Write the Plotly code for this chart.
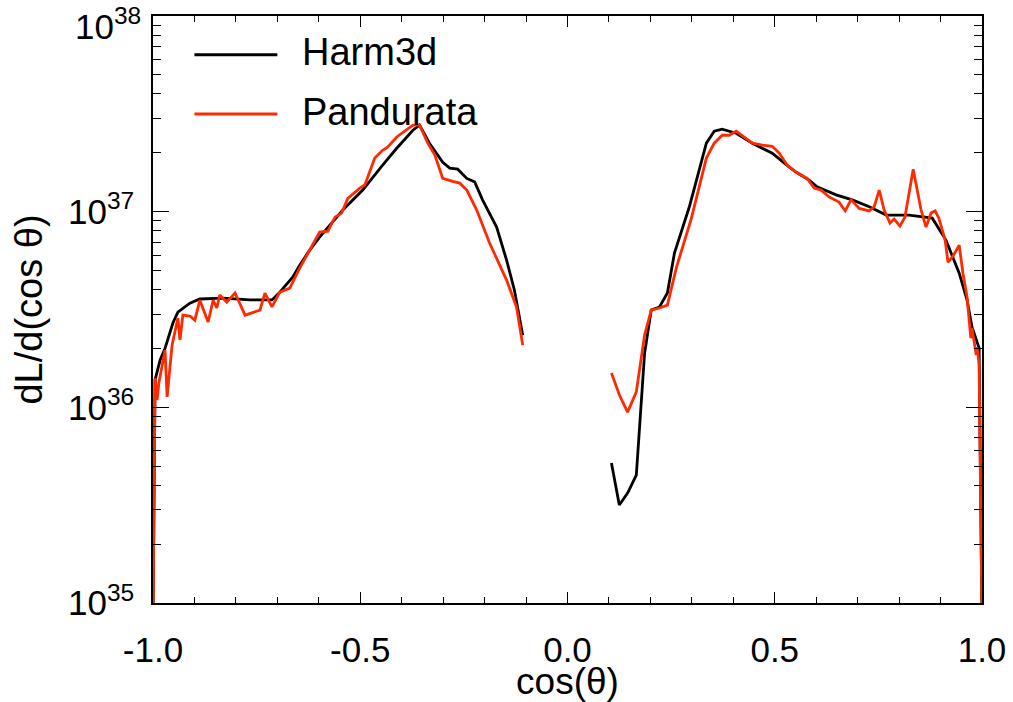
import plotly.graph_objects as go

# ---- data ----
harm_left_x = [-1.0, -0.995, -0.983, -0.971, -0.952, -0.940, -0.911, -0.887, -0.831, -0.766,
               -0.713, -0.694, -0.663, -0.646, -0.622, -0.598, -0.542, -0.494, -0.446, -0.412,
               -0.373, -0.357, -0.333, -0.301, -0.284, -0.265, -0.243, -0.224, -0.205, -0.171,
               -0.147, -0.128, -0.108]
harm_left_y = [8e34, 1.38e36, 1.74e36, 2.0e36, 2.7e36, 3.07e36, 3.41e36, 3.58e36, 3.62e36, 3.54e36,
               3.54e36, 3.88e36, 4.63e36, 5.33e36, 6.36e36, 7.42e36, 1.02e37, 1.29e37, 1.73e37, 2.11e37,
               2.61e37, 2.77e37, 2.24e37, 1.79e37, 1.67e37, 1.65e37, 1.48e37, 1.42e37, 1.15e37, 8.34e36,
               5.66e36, 3.97e36, 2.34e36]
harm_right_x = [0.106, 0.125, 0.145, 0.166, 0.186, 0.202, 0.222, 0.241, 0.258, 0.294,
                0.335, 0.354, 0.373, 0.407, 0.446, 0.494, 0.535, 0.552, 0.583, 0.602,
                0.648, 0.687, 0.728, 0.769, 0.824, 0.865, 0.880, 0.913, 0.945, 0.964,
                0.976, 0.993, 1.0]
harm_right_y = [5.19e35, 3.17e35, 3.65e35, 4.51e35, 1.89e36, 3.14e36, 3.26e36, 3.84e36, 6.14e36, 1.06e37,
                2.24e37, 2.58e37, 2.64e37, 2.52e37, 2.24e37, 1.99e37, 1.69e37, 1.59e37, 1.45e37, 1.34e37,
                1.22e37, 1.15e37, 1.06e37, 9.61e36, 9.61e36, 9.38e36, 9.27e36, 7.16e36, 4.85e36, 3.53e36,
                2.57e36, 2.01e36, 8e34]

pand_left_x = [-1.0, -0.995, -0.990, -0.986, -0.971, -0.966, -0.954, -0.940, -0.935, -0.928,
               -0.911, -0.899, -0.887, -0.867, -0.855, -0.846, -0.839, -0.822, -0.802, -0.778,
               -0.742, -0.730, -0.713, -0.694, -0.670, -0.646, -0.598, -0.578, -0.561, -0.545,
               -0.530, -0.501, -0.489, -0.465, -0.446, -0.434, -0.412, -0.388, -0.373, -0.357,
               -0.337, -0.320, -0.301, -0.277, -0.260, -0.243, -0.219, -0.188, -0.147, -0.123,
               -0.108]
pand_left_y = [8e34, 1.41e36, 1.09e36, 1.33e36, 1.96e36, 1.13e36, 2.08e36, 2.86e36, 2.21e36, 2.96e36,
               2.93e36, 2.79e36, 3.53e36, 2.73e36, 3.53e36, 3.22e36, 3.75e36, 3.45e36, 3.84e36, 2.96e36,
               3.14e36, 3.84e36, 3.26e36, 3.88e36, 4.07e36, 5.15e36, 7.87e36, 7.96e36, 9.38e36, 9.84e36,
               1.17e37, 1.32e37, 1.37e37, 1.88e37, 2.06e37, 2.14e37, 2.41e37, 2.61e37, 2.77e37, 2.77e37,
               2.24e37, 1.95e37, 1.48e37, 1.43e37, 1.40e37, 1.29e37, 1.02e37, 6.92e36, 4.47e36, 3.26e36,
               2.08e36]
pand_right_x = [0.106, 0.125, 0.145, 0.166, 0.186, 0.202, 0.222, 0.241, 0.263, 0.299,
                0.335, 0.354, 0.373, 0.390, 0.407, 0.446, 0.470, 0.494, 0.511, 0.530,
                0.552, 0.578, 0.595, 0.612, 0.631, 0.655, 0.670, 0.684, 0.704, 0.728,
                0.740, 0.752, 0.764, 0.778, 0.788, 0.802, 0.814, 0.834, 0.853, 0.865,
                0.877, 0.887, 0.896, 0.904, 0.911, 0.918, 0.930, 0.945, 0.954, 0.964,
                0.973, 0.976, 0.986, 0.988, 0.993, 1.0]
pand_right_y = [1.50e36, 1.16e36, 9.46e35, 1.20e36, 2.34e36, 3.14e36, 3.22e36, 3.33e36, 5.21e36, 9.27e36,
                1.88e37, 2.24e37, 2.46e37, 2.46e37, 2.58e37, 2.24e37, 2.19e37, 2.16e37, 1.99e37, 1.73e37,
                1.59e37, 1.48e37, 1.32e37, 1.29e37, 1.19e37, 1.12e37, 1.01e37, 1.15e37, 1.04e37, 1.01e37,
                1.06e37, 1.29e37, 1.02e37, 8.75e36, 9.17e36, 8.44e36, 9.38e36, 1.65e37, 1.02e37, 8.34e36,
                9.84e36, 1.01e37, 9.27e36, 8.05e36, 7.16e36, 5.52e36, 5.93e36, 6.75e36, 4.85e36, 3.66e36,
                2.26e36, 2.54e36, 1.85e36, 2.03e36, 1.68e36, 8e34]

series_names = ["Harm3d", "Pandurata"]
series_colors = ["#000000", "#ff2a00"]
x_tickvals = [-1.0, -0.5, 0.0, 0.5, 1.0]
x_ticktext = ["-1.0", "-0.5", "0.0", "0.5", "1.0"]
y_tickvals = [1e35, 1e36, 1e37, 1e38]
y_ticktext = ["10<sup>35</sup>", "10<sup>36</sup>", "10<sup>37</sup>", ""]
y_top_label = "10<sup>38</sup>"

FONT = "Liberation Sans, Arial, sans-serif"

fig = go.Figure()
fig.add_trace(go.Scatter(x=harm_left_x + [None] + harm_right_x,
                         y=harm_left_y + [None] + harm_right_y,
                         mode="lines", name=series_names[0],
                         line=dict(color=series_colors[0], width=2.8),
                         connectgaps=False, showlegend=False))
fig.add_trace(go.Scatter(x=pand_left_x + [None] + pand_right_x,
                         y=pand_left_y + [None] + pand_right_y,
                         mode="lines", name=series_names[1],
                         line=dict(color=series_colors[1], width=2.8),
                         connectgaps=False, showlegend=False))

# top tick label, nudged down like the reference so it stays inside the page
fig.add_annotation(xref="paper", yref="y", x=0, y=38, text=y_top_label, showarrow=False,
                   xanchor="right", yanchor="middle", xshift=-10, yshift=-8,
                   font=dict(family=FONT, size=35, color="black"))

# manual IDL-style legend
legend_rows_y = [0.934, 0.833]
for name, col, yy in zip(series_names, series_colors, legend_rows_y):
    fig.add_shape(type="line", xref="x", yref="paper", x0=-0.9, x1=-0.7, y0=yy, y1=yy,
                  line=dict(color=col, width=3))
    fig.add_annotation(xref="x", yref="paper", x=-0.645, y=yy + 0.004, text=name,
                       showarrow=False, xanchor="left", yanchor="middle",
                       font=dict(family=FONT, size=38, color="black"))

fig.update_layout(
    width=1013, height=702,
    margin=dict(l=153, r=31, t=16, b=99, autoexpand=False),
    paper_bgcolor="white", plot_bgcolor="white",
    font=dict(family=FONT, size=35, color="black"),
    xaxis=dict(range=[-1, 1], tickvals=x_tickvals, ticktext=x_ticktext,
               ticks="inside", ticklen=11, tickwidth=1.2, tickcolor="black",
               minor=dict(ticks="inside", ticklen=6, tickwidth=1.2, tickcolor="black", dtick=0.1,
                          showgrid=False),
               showline=True, linecolor="black", linewidth=1.5, mirror="ticks",
               showgrid=False, zeroline=False, automargin=False,
               ticklabelstandoff=15, ticklabeloverflow="allow",
               title=dict(text="cos(θ)", font=dict(size=37), standoff=6),
               tickfont=dict(size=35)),
    yaxis=dict(type="log", range=[35, 38.0004], tickvals=y_tickvals, ticktext=y_ticktext,
               ticks="inside", ticklen=16, tickwidth=1.2, tickcolor="black",
               minor=dict(ticks="inside", ticklen=8, tickwidth=1.2, tickcolor="black", dtick="D1",
                          showgrid=False),
               showline=True, linecolor="black", linewidth=1.5, mirror="ticks",
               showgrid=False, zeroline=False, automargin=False,
               ticklabelstandoff=10, ticklabeloverflow="allow",
               title=dict(text="dL/d(cos θ)", font=dict(size=38), standoff=14),
               tickfont=dict(size=35)),
)

fig.write_html("out.html")
